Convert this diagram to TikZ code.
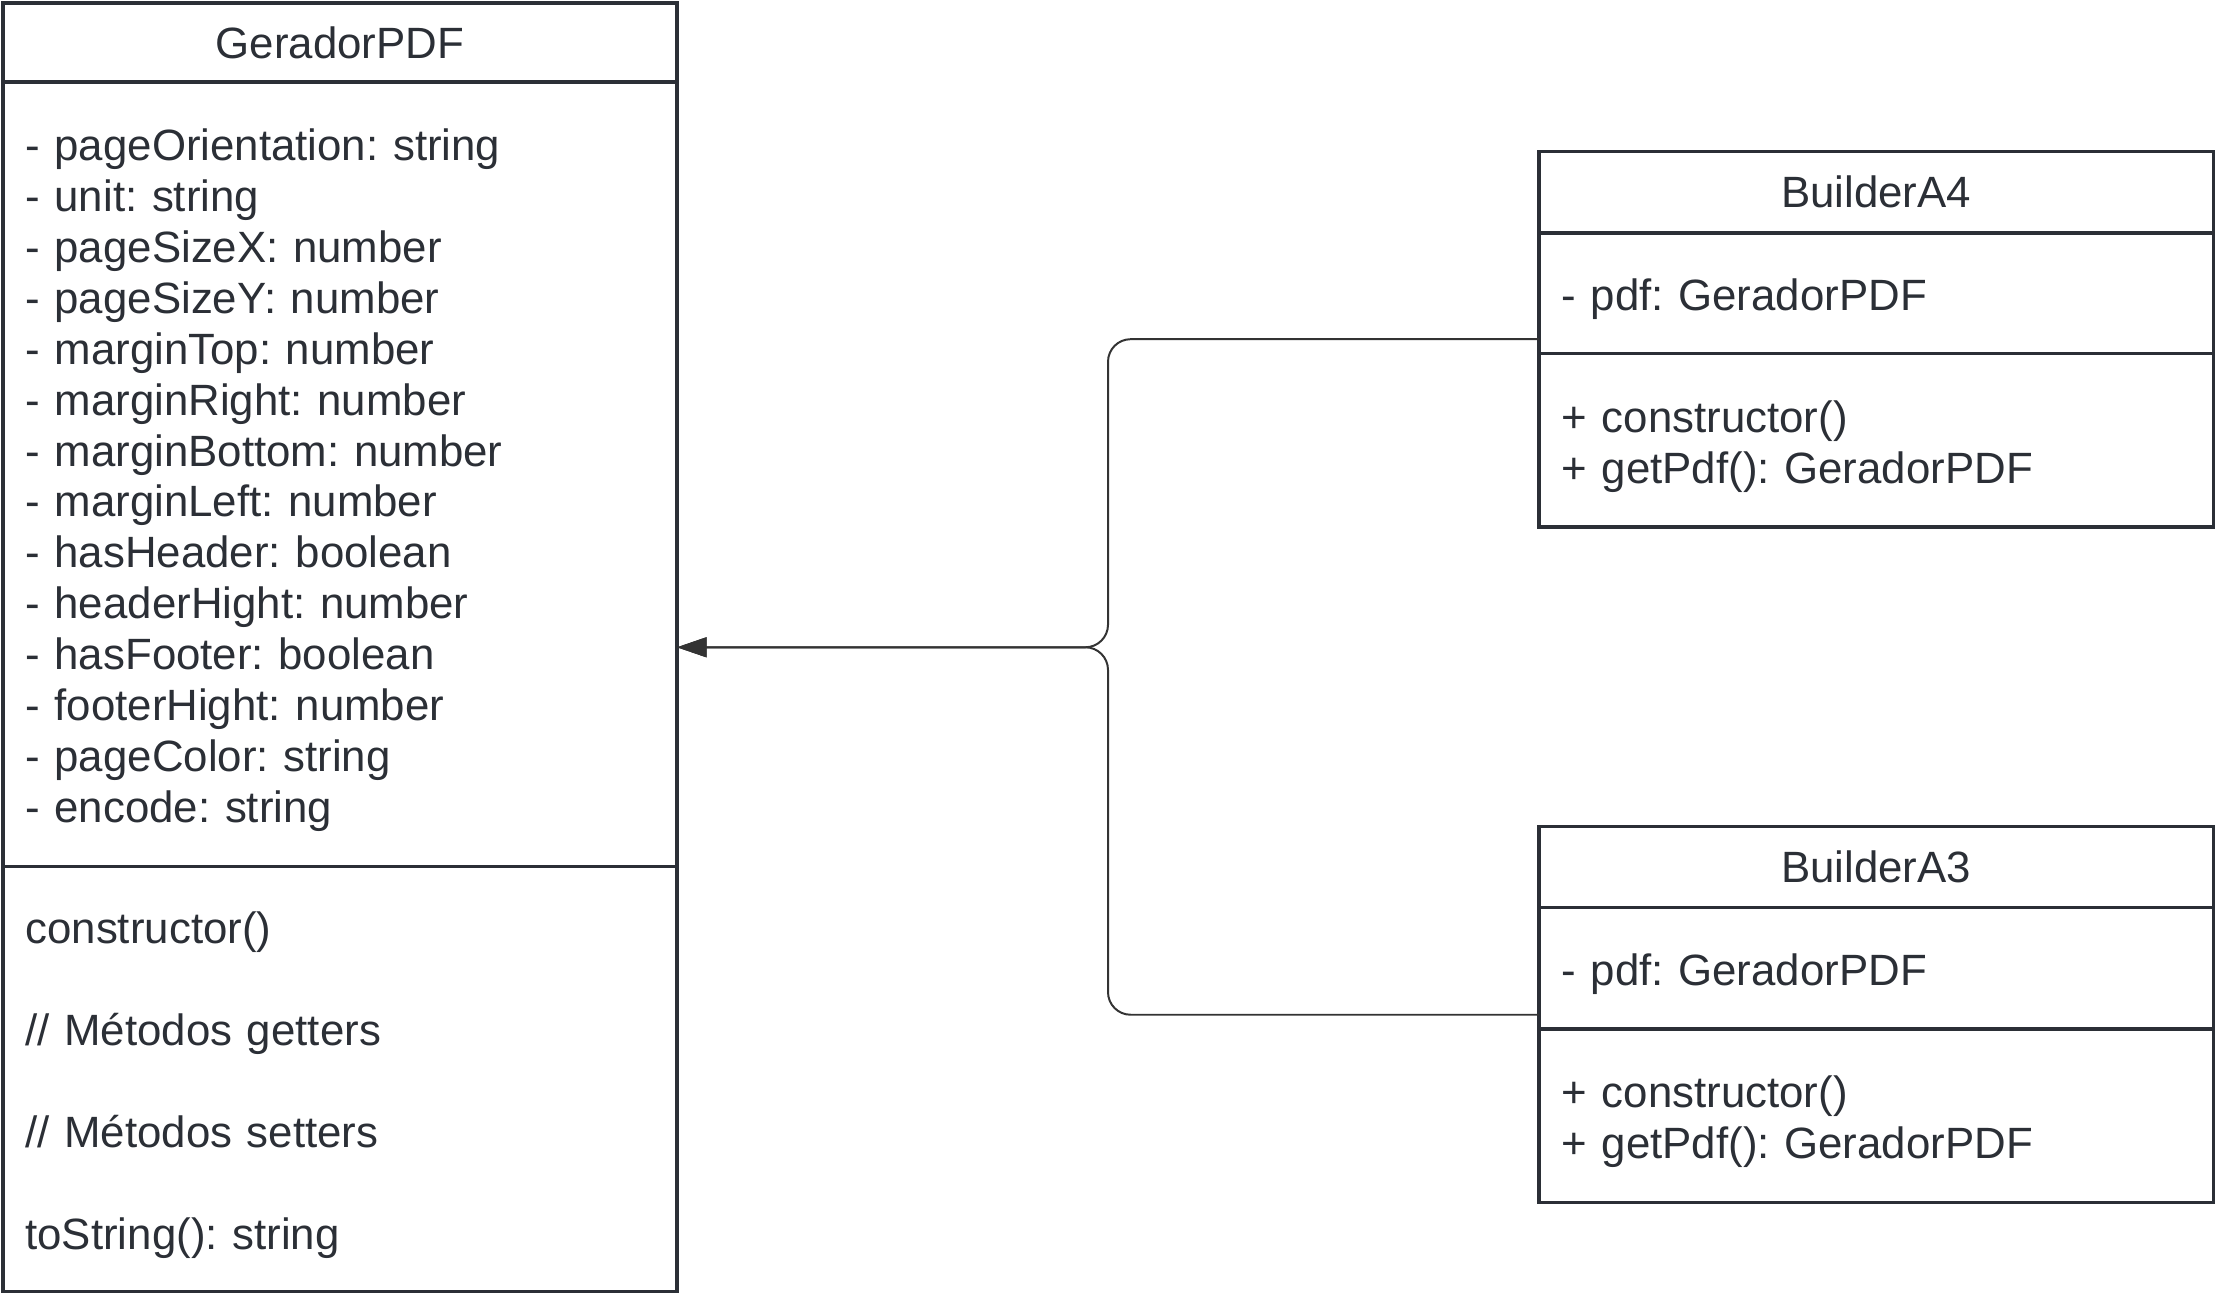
\documentclass[tikz,border=0pt]{standalone}
\usepackage{fontspec}
\setmainfont{Liberation Sans}
\usepackage{xcolor}
\definecolor{umlDark}{HTML}{2B2F36}
\definecolor{linkDark}{HTML}{333333}
\usepackage{tikz}
\usetikzlibrary{positioning,calc,arrows.meta}
\frenchspacing
\tikzset{
  classTitle/.style={
    rectangle,
    draw=umlDark,
    line width=1.2pt,
    outer sep=0pt,
    inner xsep=8pt,
    inner ysep=0pt,
    text width=222.5pt,
    text=umlDark,
    font=\fontsize{15.5}{18}\selectfont,
    align=center
 },
  classPart/.style={
    classTitle,
    align=left,
    execute at begin node={\rule{0pt}{15.5pt}}
 },
  arrowLine/.style={
    -{Triangle[length=10.5pt,width=7pt]},
    line width=0.7pt,
    rounded corners=8pt,
    color=linkDark
 }
}

\begin{document}
\begin{tikzpicture}[x=0.5pt,y=-0.5pt]
  \useasboundingbox (0,0) rectangle (1568,916);

  % GeradorPDF class
  \node[classTitle, anchor=north west, minimum height=28pt] (gTitle) at (2,2) {GeradorPDF};
  \node[classPart, below=0pt of gTitle, minimum height=277.5pt] (gAttr) {%
    - pageOrientation: string\\
    - unit: string\\
    - pageSizeX: number\\
    - pageSizeY: number\\
    - marginTop: number\\
    - marginRight: number\\
    - marginBottom: number\\
    - marginLeft: number\\
    - hasHeader: boolean\\
    - headerHight: number\\
    - hasFooter: boolean\\
    - footerHight: number\\
    - pageColor: string\\
    - encode: string};
  \node[classPart, below=0pt of gAttr, minimum height=150.5pt] (gMeth) {%
    constructor()\\[18pt]
    // Métodos getters\\[18pt]
    // Métodos setters\\[18pt]
    toString(): string};

  % BuilderA4 class
  \node[classTitle, anchor=north west, minimum height=29pt] (a4Title) at (1089,107) {BuilderA4};
  \node[classPart, below=0pt of a4Title, minimum height=42.5pt] (a4Attr) {- pdf: GeradorPDF};
  \node[classPart, below=0pt of a4Attr, minimum height=61.5pt] (a4Meth) {%
    + constructor()\\
    + getPdf(): GeradorPDF};

  % BuilderA3 class
  \node[classTitle, anchor=north west, minimum height=28.5pt] (a3Title) at (1089,585) {BuilderA3};
  \node[classPart, below=0pt of a3Title, minimum height=43pt] (a3Attr) {- pdf: GeradorPDF};
  \node[classPart, below=0pt of a3Attr, minimum height=61.5pt] (a3Meth) {%
    + constructor()\\
    + getPdf(): GeradorPDF};

  % connection points
  \coordinate (gEast) at ($(gTitle.north east)!.5!(gMeth.south east)$);
  \coordinate (a4West) at ($(a4Title.north west)!.5!(a4Meth.south west)$);
  \coordinate (a3West) at ($(a3Title.north west)!.5!(a3Meth.south west)$);
  \coordinate (junc) at (784,0 |- gEast);

  \draw[arrowLine] (a4West) -| (junc) -- (gEast);
  \draw[arrowLine] (a3West) -| (junc) -- (gEast);
\end{tikzpicture}
\end{document}
